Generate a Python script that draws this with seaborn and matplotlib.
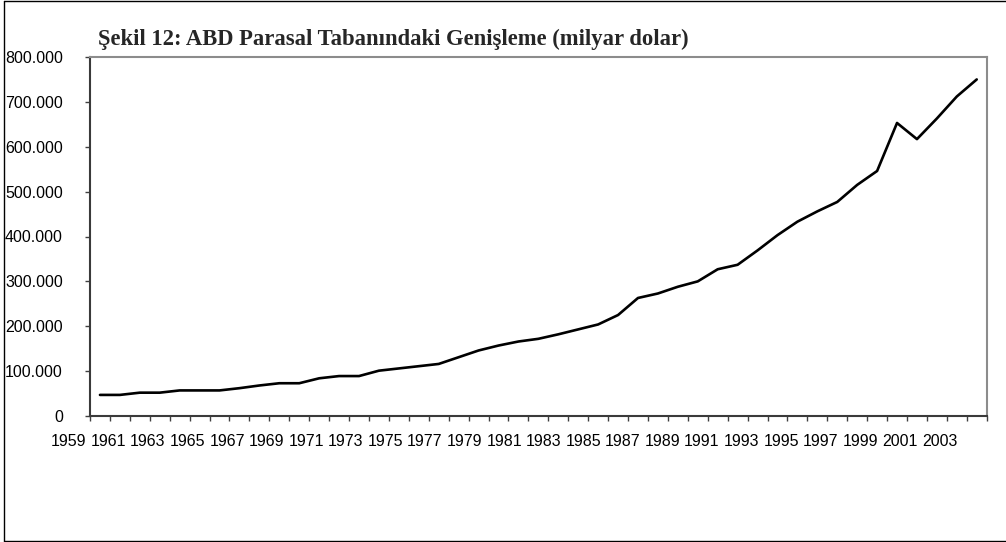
import numpy as np
import pandas as pd
import matplotlib
matplotlib.use("Agg")
import matplotlib.pyplot as plt
import matplotlib.transforms as mtransforms
import seaborn as sns

# ---- data (milyar dolar) ----
years = list(range(1960, 2005))
values = [47, 47, 52, 52, 57, 57, 57, 62, 68, 73,
          73, 84, 89, 89, 101, 106, 111, 116, 131, 146,
          157, 166, 172, 182, 193, 204, 225, 263, 273, 288,
          300, 327, 337, 369, 403, 433, 456, 477, 515, 546,
          653, 617, 663, 712, 750]
x_labels = [str(y) for y in range(1959, 2005, 2)]
y_ticks = [0, 100, 200, 300, 400, 500, 600, 700, 800]
title = "Şekil 12: ABD Parasal Tabanındaki Genişleme (milyar dolar)"

sns.set_style("white")
plt.rcParams["font.family"] = ["Liberation Sans", "DejaVu Sans"]

W, H = 1006, 542
fig = plt.figure(figsize=(W / 100, H / 100), dpi=100)
ax = fig.add_axes([90 / W, 1 - 416 / H, (986.7 - 90) / W, (416 - 57) / H])

df = pd.DataFrame({"idx": np.arange(len(values)), "val": values})
sns.lineplot(data=df, x="idx", y="val", ax=ax, color="black", linewidth=1.9)

ax.set_xlim(-0.5, len(values) - 0.5)
ax.set_ylim(0, 800)
ax.set_xlabel("")
ax.set_ylabel("")

# y axis
ax.set_yticks(y_ticks)
ax.set_yticklabels(["0" if v == 0 else f"{v*1000:,}".replace(",", ".") for v in y_ticks],
                   fontsize=11.5)
ax.tick_params(axis="y", direction="out", length=3.6, width=1.0, pad=16, colors="#404040",
               labelcolor="black", left=True)

# x axis: tick marks at category boundaries, labels as text
ax.set_xticks(np.arange(-0.5, len(values), 1.0))
ax.set_xticklabels([])
ax.tick_params(axis="x", direction="out", length=3.6, width=1.0, colors="#404040", bottom=True)

trans = mtransforms.blended_transform_factory(ax.transData, ax.transAxes)
label_pos = np.linspace(-1.57, 42.13, len(x_labels))
for p, lab in zip(label_pos, x_labels):
    ax.text(p, -25 / 359, lab, transform=trans, ha="center", va="center",
            fontsize=11.5, color="black", clip_on=False)

for s in ["left", "bottom"]:
    ax.spines[s].set_color("#3a3a3a")
    ax.spines[s].set_linewidth(1.5)
for s in ["top", "right"]:
    ax.spines[s].set_color("#8c8c8c")
    ax.spines[s].set_linewidth(1.5)
ax.grid(False)

fig.text(98 / W, 1 - 45 / H, title, ha="left", va="baseline",
         fontsize=16.3, fontweight="bold", family=["Liberation Serif", "DejaVu Serif"])

# outer chart border (left, top, bottom)
fig.add_artist(plt.Line2D([4 / W, 4 / W], [1 / H, 1 - 1 / H], transform=fig.transFigure,
                          color="black", linewidth=1.0))
fig.add_artist(plt.Line2D([4 / W, 1], [1 - 1 / H, 1 - 1 / H], transform=fig.transFigure,
                          color="black", linewidth=1.0))
fig.add_artist(plt.Line2D([4 / W, 1], [1.5 / H, 1.5 / H], transform=fig.transFigure,
                          color="black", linewidth=1.0))

fig.savefig("out.png", dpi=100, facecolor="white")
